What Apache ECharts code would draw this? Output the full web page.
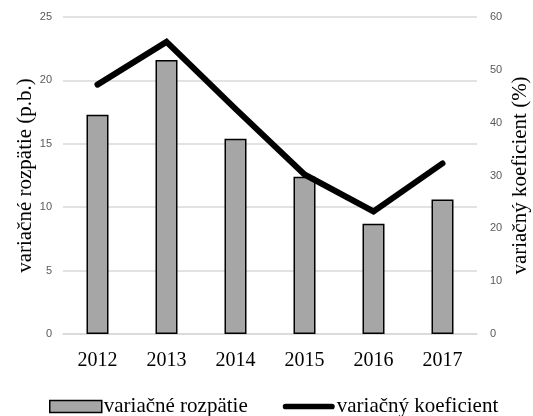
<!DOCTYPE html>
<html>
<head>
<meta charset="utf-8">
<script src="https://cdn.jsdelivr.net/npm/echarts@6/dist/echarts.min.js"></script>
<style>html,body{margin:0;padding:0;background:#fff;}#c{width:533px;height:416px;}</style>
</head>
<body>
<div id="c"></div>
<script>
var categories = ['2012', '2013', '2014', '2015', '2016', '2017'];
var rozpatie = [17.3, 21.6, 15.4, 12.4, 8.7, 10.6];
var koeficient = [47.2, 55.3, 42.6, 30.2, 23.2, 32.3];
var leftTicks = {min: 0, max: 25, interval: 5};
var rightTicks = {min: 0, max: 60, interval: 10};
var seriesNames = ['variačné rozpätie', 'variačný koeficient'];
var axisNames = ['variačné rozpätie (p.b.)', 'variačný koeficient (%)'];

var serif = '"Liberation Serif", "Times New Roman", serif';
var chart = echarts.init(document.getElementById('c'));
chart.setOption({
  animation: false,
  grid: {left: 63, right: 56, top: 17, bottom: 82, containLabel: false, outerBoundsMode: 'none'},
  legend: {
    left: 49, top: 396, padding: 0, itemGap: 35,
    itemWidth: 52, itemHeight: 12,
    textStyle: {fontFamily: serif, fontSize: 21, color: '#000', padding: [0, 0, 0, -3]},
    data: [
      {name: seriesNames[0], icon: 'rect', itemStyle: {color: '#a6a6a6', borderColor: '#000', borderWidth: 1.5}},
      {name: seriesNames[1], icon: 'path://M3,0 L52,0 A3,3 0 0 1 52,6 L3,6 A3,3 0 0 1 3,0 Z', itemStyle: {color: '#000', borderWidth: 0}}
    ]
  },
  xAxis: {
    type: 'category', data: categories,
    axisLine: {show: true, lineStyle: {color: '#d9d9d9', width: 1.5}},
    axisTick: {show: false},
    axisLabel: {fontFamily: serif, fontSize: 20, color: '#000', margin: 17}
  },
  yAxis: [{
    type: 'value', min: leftTicks.min, max: leftTicks.max, interval: leftTicks.interval,
    name: axisNames[0], nameLocation: 'middle', nameGap: 27, nameMoveOverlap: false,
    nameTextStyle: {fontFamily: serif, fontSize: 21, color: '#000'},
    axisLine: {show: false}, axisTick: {show: false},
    axisLabel: {fontFamily: '"Liberation Sans", Arial, sans-serif', fontSize: 11, color: '#595959', margin: 11},
    splitLine: {lineStyle: {color: '#d9d9d9', width: 1.5}}
  }, {
    type: 'value', min: rightTicks.min, max: rightTicks.max, interval: rightTicks.interval,
    name: axisNames[1], nameLocation: 'middle', nameGap: 33, nameMoveOverlap: false,
    nameTextStyle: {fontFamily: serif, fontSize: 21, color: '#000'},
    axisLine: {show: false}, axisTick: {show: false},
    axisLabel: {fontFamily: '"Liberation Sans", Arial, sans-serif', fontSize: 11, color: '#595959', margin: 13},
    splitLine: {show: false}
  }],
  series: [{
    name: seriesNames[0], type: 'bar', data: rozpatie, yAxisIndex: 0,
    barWidth: 22,
    itemStyle: {color: '#a6a6a6', borderColor: '#000', borderWidth: 1.5}
  }, {
    name: seriesNames[1], type: 'line', data: koeficient, yAxisIndex: 1,
    symbol: 'none',
    lineStyle: {color: '#000', width: 6, cap: 'round', join: 'miter'},
    itemStyle: {color: '#000'}
  }]
});
</script>
</body>
</html>
